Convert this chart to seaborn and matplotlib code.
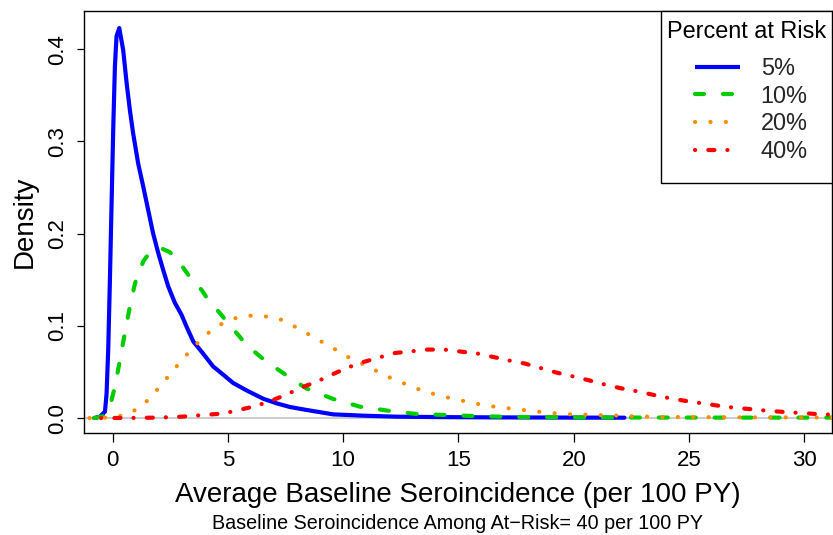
import matplotlib
matplotlib.use("Agg")
import matplotlib.pyplot as plt
import matplotlib.lines as mlines
import matplotlib.patches as mpatches
import seaborn as sns
import pandas as pd

# ---------------- data ----------------
series_labels = ["5%", "10%", "20%", "40%"]

x_5 = [-0.8, -0.55, -0.33, -0.26, -0.19, -0.12, -0.04, 0.03, 0.10, 0.17, 0.29,
       0.46, 0.61, 0.75, 0.89, 1.11, 1.33, 1.54, 1.76, 1.98, 2.19, 2.41, 2.70,
       2.99, 3.21, 3.50, 3.86, 4.08, 4.36, 4.80, 5.23, 5.81, 6.53, 7.11, 7.69,
       8.41, 9.57, 10.87, 12.3, 14.5, 17.0, 20.0, 22.2]
y_5 = [0.0, 0.0015, 0.007, 0.027, 0.074, 0.146, 0.237, 0.316, 0.381, 0.414, 0.423,
       0.399, 0.363, 0.334, 0.309, 0.276, 0.251, 0.226, 0.200, 0.179, 0.161, 0.143, 0.125,
       0.112, 0.099, 0.083, 0.072, 0.065, 0.056, 0.047, 0.038, 0.030, 0.021, 0.016, 0.012,
       0.0088, 0.004, 0.0026, 0.0015, 0.001, 0.0007, 0.0005, 0.0004]

x_10 = [-0.8, -0.4, -0.12, 0.10, 0.32, 0.53, 0.75, 0.97, 1.33, 1.62, 2.12, 2.48,
        2.92, 3.35, 3.86, 4.15, 4.65, 4.94, 5.52, 5.81, 6.39, 6.68, 7.33, 7.62,
        8.41, 9.57, 10.72, 11.95, 13.18, 14.34, 15.57, 16.8, 18.0, 22.0, 26.0, 31.4]
y_10 = [0.0, 0.002, 0.012, 0.034, 0.063, 0.092, 0.121, 0.146, 0.170, 0.180, 0.184, 0.180,
        0.168, 0.153, 0.139, 0.128, 0.114, 0.105, 0.088, 0.079, 0.067, 0.061, 0.050, 0.045,
        0.032, 0.0207, 0.0124, 0.008, 0.0044, 0.0034, 0.0023, 0.0015, 0.001, 0.0006, 0.0005, 0.0005]

x_20 = [-1.0, -0.3, 0.55, 1.15, 1.65, 2.1, 2.55, 3.0, 3.45, 3.93, 4.5, 5.1, 5.8,
        6.45, 7.2, 7.81, 8.42, 9.01, 9.62, 10.22, 10.84, 11.47, 12.1, 12.75, 13.4,
        14.08, 14.74, 15.4, 16.1, 16.8, 17.5, 18.2, 18.9, 19.6, 20.3, 21.0, 21.65,
        22.4, 24.0, 27.0, 31.4]
y_20 = [0.0, 0.0005, 0.003, 0.011, 0.022, 0.036, 0.049, 0.063, 0.075, 0.088, 0.099, 0.107, 0.111,
        0.111, 0.108, 0.1005, 0.092, 0.0836, 0.075, 0.066, 0.0587, 0.0508, 0.043, 0.0364, 0.030,
        0.025, 0.021, 0.0176, 0.014, 0.0115, 0.0097, 0.0076, 0.0058, 0.0043, 0.0038, 0.0032, 0.0029,
        0.002, 0.0012, 0.0008, 0.0006]

x_40 = [-0.5, 1.0, 2.0, 3.0, 3.8, 4.8, 5.45, 6.2, 6.9, 7.55, 8.18, 8.9, 9.55,
        10.2, 10.84, 11.54, 12.26, 12.97, 13.66, 14.38, 15.1, 15.82, 16.5, 17.2,
        17.9, 18.6, 19.3, 20.0, 20.7, 21.4, 22.1, 22.8, 23.5, 24.2, 24.9, 25.6,
        26.3, 27.0, 27.8, 28.4, 29.2, 29.9, 30.6, 31.4]
y_40 = [0.0, 0.0002, 0.0005, 0.0015, 0.003, 0.005, 0.0086, 0.013, 0.019, 0.0256, 0.033, 0.040, 0.0476,
        0.0548, 0.0605, 0.0656, 0.0706, 0.0724, 0.0743, 0.0743, 0.0721, 0.070, 0.0663, 0.0624,
        0.059, 0.054, 0.049, 0.045, 0.0407, 0.036, 0.032, 0.0288, 0.0249, 0.0213, 0.0184, 0.0159,
        0.0133, 0.0111, 0.0094, 0.0079, 0.0065, 0.0054, 0.0043, 0.0035]

x_ticks = [0, 5, 10, 15, 20, 25, 30]
y_ticks = [0.0, 0.1, 0.2, 0.3, 0.4]
y_tick_labels = ["0.0", "0.1", "0.2", "0.3", "0.4"]

x_title = "Average Baseline Seroincidence (per 100 PY)"
y_title = "Density"
subtitle = "Baseline Seroincidence Among At\u2212Risk= 40 per 100 PY"
legend_title = "Percent at Risk"

# ---------------- styling ----------------
sns.set_theme(style="white")
plt.rcParams['font.family'] = ['Liberation Sans', 'DejaVu Sans']
plt.rcParams['lines.scale_dashes'] = False
plt.rcParams['axes.unicode_minus'] = True

colors = ["#0000FF", "#00CD00", "#FF8C00", "#FF0000"]
dash_styles = ["-", (0, (6.5, 13.6)), (0, (0.1, 11.0)), (0, (0.1, 9.5, 4.4, 9.3))]
LW = 3.0

W, H = 833, 535
fig = plt.figure(figsize=(W / 100, H / 100), dpi=100)
ax = fig.add_axes([84 / W, 1 - 433 / H, (832 - 84) / W, (433 - 11) / H])

ax.axhline(0, color="#CCCCCC", lw=1.5, zorder=1)

xs = [x_5, x_10, x_20, x_40]
ys = [y_5, y_10, y_20, y_40]
for lab, xv, yv, c, ls in zip(series_labels, xs, ys, colors, dash_styles):
    df = pd.DataFrame({"x": xv, "y": yv})
    sns.lineplot(data=df, x="x", y="y", ax=ax, color=c, lw=LW, linestyle=ls,
                 sort=False, estimator=None, legend=False,
                 dash_capstyle="round", solid_capstyle="round",
                 solid_joinstyle="round", zorder=3)

ax.set_xlim(-1.24, 31.2)
ax.set_ylim(-0.0162, 0.4415)
ax.set_xticks(x_ticks)
ax.set_xticklabels([str(t) for t in x_ticks])
ax.set_yticks(y_ticks)
ax.set_yticklabels(y_tick_labels, rotation=90, va="center")
ax.set_xlabel("")
ax.set_ylabel("")

for s in ax.spines.values():
    s.set_color("black")
    s.set_linewidth(1.0)
ax.tick_params(axis="x", direction="out", length=6.5, width=0.9, color="black",
               labelsize=16, pad=5.5, labelcolor="black", bottom=True)
ax.tick_params(axis="y", direction="out", length=5.4, width=0.9, color="black",
               labelsize=16, pad=6.0, labelcolor="black", left=True)

fig.text(458 / W, 1 - 501.7 / H, x_title, ha="center", va="baseline", fontsize=20, color="black")
fig.text(458 / W, 1 - 529.3 / H, subtitle, ha="center", va="baseline", fontsize=14.2, color="black")
fig.text(32 / W, 1 - 222 / H, y_title, ha="center", va="baseline", rotation=90,
         rotation_mode="anchor", fontsize=20, color="black")

# ---------------- legend ----------------
handles = [mlines.Line2D([], [], color=c, lw=LW, linestyle=ls,
                         dash_capstyle="round", solid_capstyle="butt")
           for c, ls in zip(colors, dash_styles)]
leg = ax.legend(handles, series_labels, loc="upper left",
                bbox_to_anchor=(695 / W, 1 - 57 / H), bbox_transform=fig.transFigure,
                frameon=False, fontsize=16.9, handlelength=1.9, handletextpad=0.9,
                labelspacing=0.2, borderpad=0, borderaxespad=0)
frame = mpatches.Rectangle((661 / W, 1 - 183 / H), (832 - 661) / W, (183 - 11) / H,
                           transform=fig.transFigure, fill=True, facecolor="white",
                           edgecolor="black", lw=1.0, zorder=4)
ax.add_artist(frame)
frame.set_clip_on(False)
leg.set_zorder(5)
ax.text(746.5 / W, 1 - 38.3 / H, legend_title, transform=fig.transFigure,
        ha="center", va="baseline", fontsize=16.9, color="black", zorder=6)

fig.savefig("out.png", dpi=100)
